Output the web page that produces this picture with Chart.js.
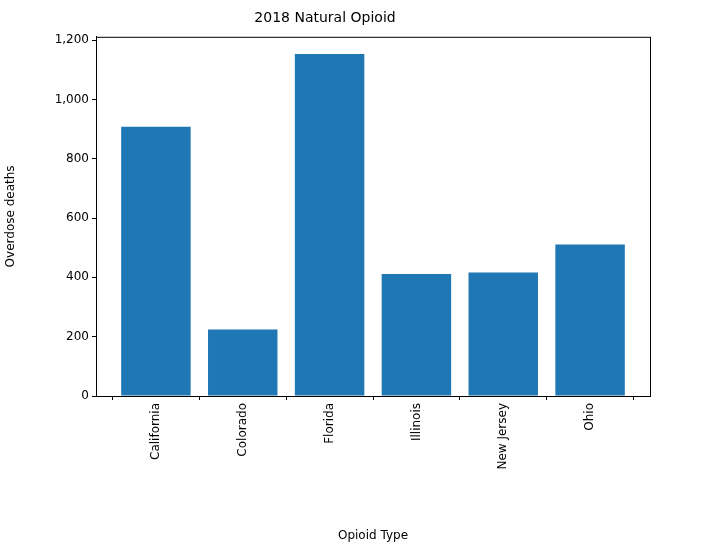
<!DOCTYPE html>
<html>
<head>
<script src="https://cdn.jsdelivr.net/npm/chart.js@4"></script>
<style>body{margin:0;background:#fff}#wrap{width:716px;height:547px}</style>
</head>
<body>
<div id="wrap"><canvas id="c"></canvas></div>
<script>
const states = ['California','Colorado','Florida','Illinois','New Jersey','Ohio'];
const deaths = [908, 224, 1153, 411, 416, 511];
const yTicks = [0, 200, 400, 600, 800, 1000, 1200];

const frame = {
  id: 'frame',
  afterDraw(chart) {
    const a = chart.chartArea, ctx = chart.ctx;
    ctx.save();
    ctx.strokeStyle = '#000';
    ctx.lineWidth = 1;
    ctx.strokeRect(a.left + 0.5, a.top + 0.5, a.right - a.left, a.bottom - a.top);
    ctx.restore();
  }
};

Chart.defaults.font.family = 'DejaVu Sans';
Chart.defaults.color = '#000';

new Chart(document.getElementById('c'), {
  type: 'bar',
  data: {
    datasets: [{
      data: deaths.map((v, i) => ({x: i, y: v})),
      backgroundColor: '#1f77b4',
      categoryPercentage: 0.8,
      barPercentage: 1
    }]
  },
  options: {
    responsive: true,
    maintainAspectRatio: false,
    animation: false,
    layout: { padding: { left: 0, right: 66, top: 0, bottom: 0 } },
    plugins: {
      legend: { display: false },
      tooltip: { enabled: false },
      title: { display: true, text: '2018 Natural Opioid', font: { size: 14, weight: 'normal' }, padding: { top: 10, bottom: 10 } }
    },
    scales: {
      x: {
        type: 'linear', min: -0.69, max: 5.69, offset: false,
        afterBuildTicks(s) { s.ticks = states.map((_, i) => ({ value: i })); },
        afterFit(s) { s.height = 151; },
        ticks: { callback: v => states[v], maxRotation: 90, minRotation: 90, autoSkip: false, font: { size: 12 } },
        grid: { drawOnChartArea: false, tickLength: 4, color: '#000' },
        border: { color: '#000' },
        title: { display: true, text: 'Opioid Type', font: { size: 12 }, padding: { top: 4 } }
      },
      y: {
        min: 0, max: 1211,
        afterBuildTicks(s) { s.ticks = yTicks.map(v => ({ value: v })); },
        afterFit(s) { s.width = 96; },
        ticks: { font: { size: 12 } },
        grid: { drawOnChartArea: false, tickLength: 4, color: '#000' },
        border: { color: '#000' },
        title: { display: true, text: 'Overdose deaths', font: { size: 12 } }
      }
    }
  },
  plugins: [frame]
});
</script>
</body>
</html>
